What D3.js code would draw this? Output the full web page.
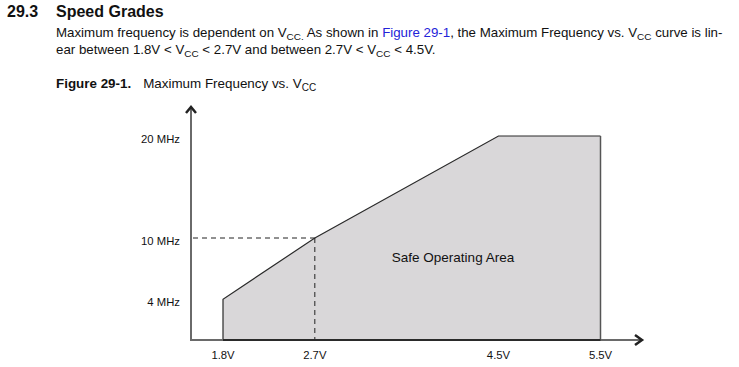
<!DOCTYPE html>
<html>
<head>
<meta charset="utf-8">
<script src="https://cdn.jsdelivr.net/npm/d3@7"></script>
<style>
  html, body { margin: 0; padding: 0; background: #fff; }
  svg { display: block; font-family: "Liberation Sans", Arial, Helvetica, sans-serif; }
</style>
</head>
<body>
<svg id="chart" width="739" height="367"></svg>
<script>
// ---- data ----
const vccPoints = [1.8, 2.7, 4.5, 5.5];          // V
const freqPoints = [4, 10, 20, 20];              // MHz
const xTickValues = [1.8, 2.7, 4.5, 5.5];
const xTickLabels = ["1.8V", "2.7V", "4.5V", "5.5V"];
const yTickValues = [4, 10, 20];
const yTickLabels = ["4 MHz", "10 MHz", "20 MHz"];
const markerVcc = 2.7, markerFreq = 10;
const areaLabel = "Safe Operating Area";

const svg = d3.select("#chart");

// ---- header text ----
svg.append("text").attr("x", 7).attr("y", 17)
  .attr("font-size", 16).attr("font-weight", "bold").attr("fill", "#111").text("29.3");
svg.append("text").attr("x", 56).attr("y", 17)
  .attr("font-size", 16).attr("font-weight", "bold").attr("fill", "#111").text("Speed Grades");

function richLine(y, parts, size) {
  const t = svg.append("text").attr("x", 56).attr("y", y).attr("font-size", size).attr("fill", "#111");
  parts.forEach(p => {
    const s = t.append("tspan").text(p.t);
    if (p.sub) {
      s.attr("font-size", size * 0.75).attr("dy", 3);
    } else if (p.after) {
      s.attr("dy", -3);
    }
    if (p.color) s.attr("fill", p.color);
  });
  return t;
}

richLine(37, [
  {t: "Maximum frequency is dependent on V"},
  {t: "CC.", sub: true},
  {t: " As shown in ", after: true},
  {t: "Figure 29-1", color: "#2323d8"},
  {t: ", the Maximum Frequency vs. V"},
  {t: "CC", sub: true},
  {t: " curve is lin-", after: true}
], 13.3);

richLine(54, [
  {t: "ear between 1.8V < V"},
  {t: "CC", sub: true},
  {t: " < 2.7V and between 2.7V < V", after: true},
  {t: "CC", sub: true},
  {t: " < 4.5V.", after: true}
], 13.3);

const cap = svg.append("text").attr("x", 56).attr("y", 87.5).attr("font-size", 13.4).attr("fill", "#111");
cap.append("tspan").attr("font-weight", "bold").text("Figure 29-1.");
cap.append("tspan").attr("dx", 12).text("Maximum Frequency vs. V");
cap.append("tspan").attr("font-size", 10).attr("dy", 3).text("CC");

// ---- scales ----
const x = d3.scaleLinear().domain([1.8, 5.5]).range([223, 600.5]);
const y = d3.scaleLinear().domain([0, 20]).range([340, 136]);
const axisX0 = 191, axisXEnd = 642, axisYTop = 107;

// ---- safe area polygon ----
const poly = [[vccPoints[0], 0]]
  .concat(vccPoints.map((v, i) => [v, freqPoints[i]]))
  .concat([[vccPoints[vccPoints.length - 1], 0]]);
const line = d3.line().x(d => x(d[0])).y(d => y(d[1]));
svg.append("path").attr("d", line(poly) + "Z")
  .attr("fill", "#d9d7d9").attr("stroke", "none");
// outline (left + slopes + top)
svg.append("path").attr("d", line(poly.slice(0, poly.length - 1)))
  .attr("fill", "none").attr("stroke", "#2a2a2a").attr("stroke-width", 1.2);
// right edge
svg.append("path").attr("d", line(poly.slice(poly.length - 2)))
  .attr("fill", "none").attr("stroke", "#555").attr("stroke-width", 1.5);

// ---- dashed guides ----
svg.append("line").attr("x1", axisX0 + 2).attr("x2", x(markerVcc))
  .attr("y1", y(markerFreq)).attr("y2", y(markerFreq))
  .attr("stroke", "#222").attr("stroke-width", 1).attr("stroke-dasharray", "5,4");
svg.append("line").attr("x1", x(markerVcc)).attr("x2", x(markerVcc))
  .attr("y1", y(markerFreq)).attr("y2", y(0))
  .attr("stroke", "#222").attr("stroke-width", 1).attr("stroke-dasharray", "5,4");

// ---- axes ----
svg.append("line").attr("x1", axisX0).attr("x2", axisX0).attr("y1", axisYTop + 1).attr("y2", y(0) + 1)
  .attr("stroke", "#6a6a6a").attr("stroke-width", 2);
svg.append("line").attr("x1", axisX0).attr("x2", axisXEnd - 1).attr("y1", y(0)).attr("y2", y(0))
  .attr("stroke", "#6a6a6a").attr("stroke-width", 2);
// bottom edge of area darker
svg.append("line").attr("x1", x(vccPoints[0])).attr("x2", x(vccPoints[vccPoints.length - 1]))
  .attr("y1", y(0)).attr("y2", y(0)).attr("stroke", "#2a2a2a").attr("stroke-width", 2);

// arrow heads
svg.append("path").attr("d", `M${axisX0 - 5},${axisYTop + 6} L${axisX0},${axisYTop} L${axisX0 + 5},${axisYTop + 6}`)
  .attr("fill", "none").attr("stroke", "#222").attr("stroke-width", 2.5).attr("stroke-linejoin", "miter");
svg.append("path").attr("d", `M${axisXEnd - 7},${y(0) - 5} L${axisXEnd},${y(0)} L${axisXEnd - 7},${y(0) + 5}`)
  .attr("fill", "none").attr("stroke", "#222").attr("stroke-width", 2.5).attr("stroke-linejoin", "miter");

// ---- tick labels ----
svg.selectAll("text.ylab").data(yTickValues).enter().append("text")
  .attr("class", "ylab")
  .attr("x", 180).attr("y", d => y(d) + 6.5)
  .attr("text-anchor", "end").attr("font-size", 11.3).attr("fill", "#111")
  .text((d, i) => yTickLabels[i]);

svg.selectAll("text.xlab").data(xTickValues).enter().append("text")
  .attr("class", "xlab")
  .attr("x", d => x(d)).attr("y", 359)
  .attr("text-anchor", "middle").attr("font-size", 11.3).attr("fill", "#111")
  .text((d, i) => xTickLabels[i]);

// ---- area label ----
svg.append("text").attr("x", 453).attr("y", 262)
  .attr("text-anchor", "middle").attr("font-size", 13.5).attr("fill", "#111")
  .text(areaLabel);
</script>
</body>
</html>
